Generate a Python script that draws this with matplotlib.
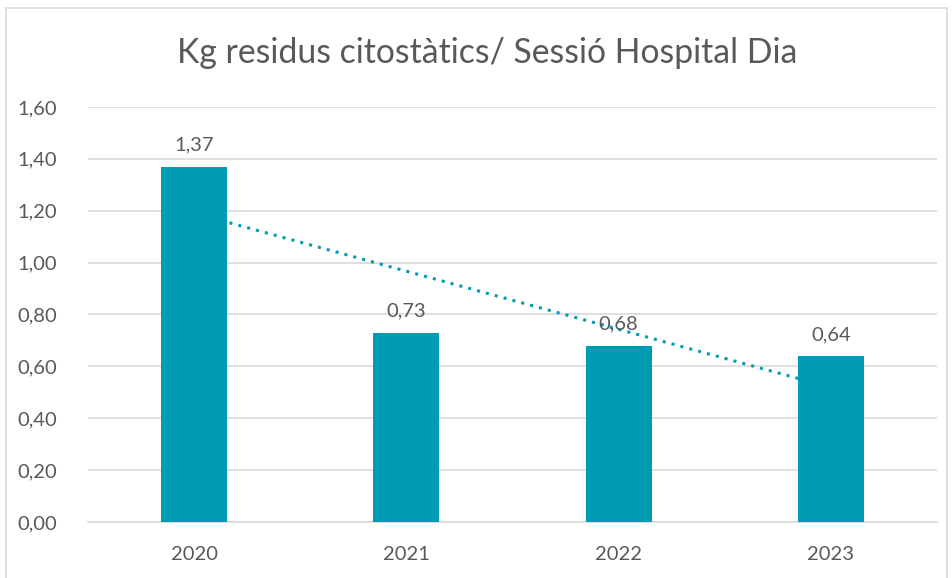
import numpy as np
from matplotlib import pyplot as plt
from matplotlib.patches import Rectangle

plt.rcParams.update({
    "font.family": ["Lato", "DejaVu Sans"],
})

years = ["2020", "2021", "2022", "2023"]
kg_per_session = [1.37, 0.73, 0.68, 0.64]
y_ticks = [0.0, 0.2, 0.4, 0.6, 0.8, 1.0, 1.2, 1.4, 1.6]

BAR_COLOR = "#009CB3"
TEXT_COLOR = "#595959"
GRID_COLOR = "#D9D9D9"


def fmt(v):
    return f"{v:.2f}".replace(".", ",")


fig = plt.figure(figsize=(9.53, 5.78), dpi=100)
ax = fig.add_axes([88 / 953, 1 - 522 / 578, (937 - 88) / 953, (522 - 107) / 578])

x = np.arange(len(years))
bars = ax.bar(x, kg_per_session, width=0.31, color=BAR_COLOR, zorder=3)

# linear trendline, behind the bars
slope, intercept = np.polyfit(x, kg_per_session, 1)
ax.plot(x, slope * x + intercept, linestyle=(0, (1, 2)), color=BAR_COLOR,
        linewidth=2.2, zorder=2)

for xi, v in zip(x, kg_per_session):
    ax.text(xi, v + 0.05, fmt(v), ha="center", va="bottom",
            fontsize=14.5, color=TEXT_COLOR, zorder=4)

ax.set_xlim(-0.5, len(years) - 0.5)
ax.set_ylim(0, 1.6)
ax.set_xticks(x)
ax.set_xticklabels(years)
ax.set_yticks(y_ticks)
ax.set_yticklabels([fmt(t) for t in y_ticks])
ax.tick_params(length=0, labelsize=14.5, labelcolor=TEXT_COLOR)
ax.tick_params(axis="x", pad=17)
ax.tick_params(axis="y", pad=22)

ax.grid(axis="y", color=GRID_COLOR, linewidth=1.2, zorder=0)
for side in ["top", "right", "left"]:
    ax.spines[side].set_visible(False)
ax.spines["bottom"].set_color(GRID_COLOR)
ax.spines["bottom"].set_linewidth(1.2)

fig.text(487 / 953, 1 - 53 / 578, "Kg residus citostàtics/ Sessió Hospital Dia",
         ha="center", va="center", fontsize=24.3, color=TEXT_COLOR)

# chart area border
fig.patches.append(Rectangle((6 / 953, -0.01), (947 - 6) / 953, 1 - 8 / 578 + 0.01,
                             transform=fig.transFigure, fill=False,
                             edgecolor=GRID_COLOR, linewidth=1.2))

fig.savefig("out.png", dpi=100)
